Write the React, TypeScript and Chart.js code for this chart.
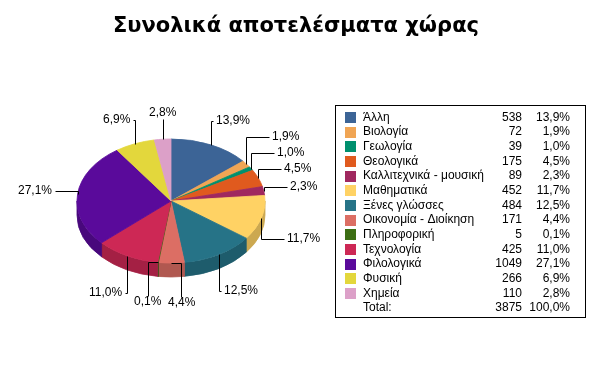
import React, { useEffect, useRef } from 'react';
import { Chart, registerables } from 'chart.js';

Chart.register(...registerables);

const title = 'Συνολικά αποτελέσματα χώρας';
const categories = [
  'Άλλη',
  'Βιολογία',
  'Γεωλογία',
  'Θεολογικά',
  'Καλλιτεχνικά - μουσική',
  'Μαθηματικά',
  'Ξένες γλώσσες',
  'Οικονομία - Διοίκηση',
  'Πληροφορική',
  'Τεχνολογία',
  'Φιλολογικά',
  'Φυσική',
  'Χημεία',
];
const counts = [538, 72, 39, 175, 89, 452, 484, 171, 5, 425, 1049, 266, 110];
const colors = [
  '#3C6496', '#F0A554', '#00906E', '#E05A1E', '#A0285F', '#FFD264', '#267387',
  '#DC6E64', '#3C6E14', '#CD2855', '#5A0A9B', '#E3D73C', '#DCA0C8',
];
const totalLabel = 'Total:';

const W = 594;
const H = 388;
const CX = 171;
const CY = 201;
const RX = 94;
const RY = 62;
const K = RY / RX;
const DEPTH = 14;
const LRY = 88;
const FONT = '12px "Liberation Sans", Arial, sans-serif';

const total = counts.reduce((a, b) => a + b, 0);
const pct = (v: number) => ((v / total) * 100).toFixed(1).replace('.', ',') + '%';

function shade(hex: string, f: number) {
  const n = parseInt(hex.slice(1), 16);
  const r = Math.round(((n >> 16) & 255) * f);
  const g = Math.round(((n >> 8) & 255) * f);
  const b = Math.round((n & 255) * f);
  return `rgb(${r},${g},${b})`;
}

const px = (v: number) => Math.round(v) + 0.5;

const pie3d = {
  id: 'pie3d',
  beforeDraw(chart: any) {
    const ctx = chart.ctx;
    ctx.save();
    ctx.fillStyle = '#fff';
    ctx.fillRect(0, 0, chart.width, chart.height);
    ctx.restore();
  },
  beforeDatasetsDraw(chart: any) {
    const ctx = chart.ctx;
    const meta = chart.getDatasetMeta(0);
    meta.data.forEach((arc: any, i: number) => {
      const s = Math.max(arc.startAngle, 0);
      const e = Math.min(arc.endAngle, Math.PI);
      if (e <= s) return;
      const cx = arc.x;
      const cy = arc.y;
      const r = arc.outerRadius;
      const ry = r * K;
      ctx.beginPath();
      ctx.ellipse(cx, cy, r, ry, 0, s, e, false);
      ctx.lineTo(cx + r * Math.cos(e), cy + ry * Math.sin(e) + DEPTH);
      ctx.ellipse(cx, cy + DEPTH, r, ry, 0, e, s, true);
      ctx.closePath();
      const c = shade(colors[i], 0.8);
      ctx.fillStyle = c;
      ctx.strokeStyle = c;
      ctx.lineWidth = 0.8;
      ctx.fill();
      ctx.stroke();
    });
    const first = meta.data[0];
    ctx.save();
    ctx.translate(first.x, first.y);
    ctx.scale(1, K);
    ctx.translate(-first.x, -first.y);
  },
  afterDatasetsDraw(chart: any) {
    chart.ctx.restore();
  },
  afterDraw(chart: any) {
    const ctx = chart.ctx;
    const meta = chart.getDatasetMeta(0);
    ctx.save();
    // title
    ctx.fillStyle = '#000';
    ctx.font = 'bold 21px "DejaVu Sans", sans-serif';
    ctx.textAlign = 'center';
    ctx.textBaseline = 'alphabetic';
    ctx.fillText(title, W / 2 - 1, 32);

    // slice labels: compute placement
    ctx.font = FONT;
    const labels = meta.data.map((arc: any, i: number) => {
      const a = (arc.startAngle + arc.endAngle) / 2;
      const c = Math.cos(a);
      const s = Math.sin(a);
      const ax = arc.x + RX * c;
      const ay = arc.y + RY * s;
      const ly = arc.y + LRY * s + (s > 0 ? DEPTH : 0);
      const text = pct(counts[i]);
      const w = ctx.measureText(text).width;
      const centered = Math.abs(c) < 0.2;
      const right = c >= 0;
      const leg = Math.abs(c) > 0.75 ? 23 : 2;
      const lx = ax + (right ? leg : -leg);
      let x0: number;
      if (centered) x0 = ax - w / 2;
      else x0 = right ? lx + 3 : lx - 3 - w;
      return { c, s, ax, ay, ly, text, w, centered, right, lx, x0, top: s < 0 };
    });

    // vertical collision resolution for side labels
    const side = labels.filter((l: any) => !l.centered);
    const overlapX = (p: any, q: any) => p.x0 < q.x0 + q.w + 2 && q.x0 < p.x0 + p.w + 2;
    const upper = side.filter((l: any) => l.top).sort((p: any, q: any) => q.ly - p.ly);
    const placedU: any[] = [];
    upper.forEach((l: any) => {
      placedU.forEach((o: any) => {
        if (overlapX(l, o) && l.ly > o.ly - 16) l.ly = o.ly - 16;
      });
      placedU.push(l);
    });
    const lower = side.filter((l: any) => !l.top).sort((p: any, q: any) => p.ly - q.ly);
    const placedL: any[] = [];
    lower.forEach((l: any) => {
      placedL.forEach((o: any) => {
        if (overlapX(l, o) && l.ly < o.ly + 16) l.ly = o.ly + 16;
      });
      placedL.push(l);
    });
    // horizontal collision resolution for centered labels (per half)
    [true, false].forEach((half) => {
      const cent = labels
        .filter((l: any) => l.centered && l.top === half)
        .sort((p: any, q: any) => p.x0 - q.x0);
      for (let k = 0; k < cent.length - 1; k++) {
        const p = cent[k];
        const q = cent[k + 1];
        const ov = p.x0 + p.w + 6 - q.x0;
        if (ov > 0) {
          p.x0 -= ov / 2;
          q.x0 += ov / 2;
        }
      }
    });

    // draw
    ctx.strokeStyle = '#000';
    ctx.lineWidth = 1;
    ctx.fillStyle = '#000';
    ctx.textBaseline = 'middle';
    ctx.textAlign = 'left';
    labels.forEach((l: any) => {
      ctx.beginPath();
      if (l.centered) {
        const tx = l.x0 + l.w / 2;
        const end = l.ly + (l.top ? 6 : -6);
        ctx.moveTo(px(l.ax), px(l.ay));
        ctx.lineTo(px(tx), px(l.ay));
        ctx.lineTo(px(tx), px(end));
        ctx.stroke();
        ctx.fillText(l.text, Math.round(l.x0), Math.round(l.ly));
      } else {
        ctx.moveTo(px(l.ax), px(l.ay));
        ctx.lineTo(px(l.ax), px(l.ly));
        ctx.lineTo(px(l.lx), px(l.ly));
        ctx.stroke();
        ctx.fillText(l.text, Math.round(l.x0), Math.round(l.ly));
      }
    });

    // legend table
    const bx = 335.5;
    const by = 105.5;
    ctx.strokeStyle = '#000';
    ctx.strokeRect(bx, by, 250, 212);
    ctx.textBaseline = 'alphabetic';
    const step = 14.65;
    categories.forEach((name, i) => {
      const base = 120.7 + i * step;
      ctx.fillStyle = colors[i];
      ctx.fillRect(345, Math.round(112 + i * step), 11, 11);
      ctx.fillStyle = '#000';
      ctx.textAlign = 'left';
      ctx.fillText(name, 363, base);
      ctx.textAlign = 'right';
      ctx.fillText(String(counts[i]), 522, base);
      ctx.fillText(pct(counts[i]), 570, base);
    });
    const tb = 120.7 + categories.length * step;
    ctx.textAlign = 'left';
    ctx.fillText(totalLabel, 363, tb);
    ctx.textAlign = 'right';
    ctx.fillText(String(total), 522, tb);
    ctx.fillText('100,0%', 570, tb);
    ctx.restore();
  },
};

export default function App() {
  const ref = useRef<HTMLCanvasElement>(null);
  useEffect(() => {
    if (!ref.current) return;
    const area = 2 * RX + 1;
    const left = CX - area / 2;
    const top = CY - area / 2;
    const chart = new Chart(ref.current, {
      type: 'pie',
      data: {
        labels: categories,
        datasets: [
          {
            data: counts,
            backgroundColor: colors,
            borderColor: colors,
            borderWidth: 1,
            hoverOffset: 0,
          },
        ],
      },
      options: {
        responsive: false,
        animation: false,
        events: [],
        devicePixelRatio: 1,
        layout: {
          padding: { left, top, right: W - left - area, bottom: H - top - area },
        },
        plugins: {
          legend: { display: false },
          title: { display: false },
          tooltip: { enabled: false },
        },
      },
      plugins: [pie3d],
    });
    return () => chart.destroy();
  }, []);
  return (
    <div style={{ position: 'absolute', left: 0, top: 0, width: W, height: H, background: '#fff' }}>
      <canvas ref={ref} width={W} height={H} style={{ width: W, height: H, display: 'block' }} />
    </div>
  );
}
